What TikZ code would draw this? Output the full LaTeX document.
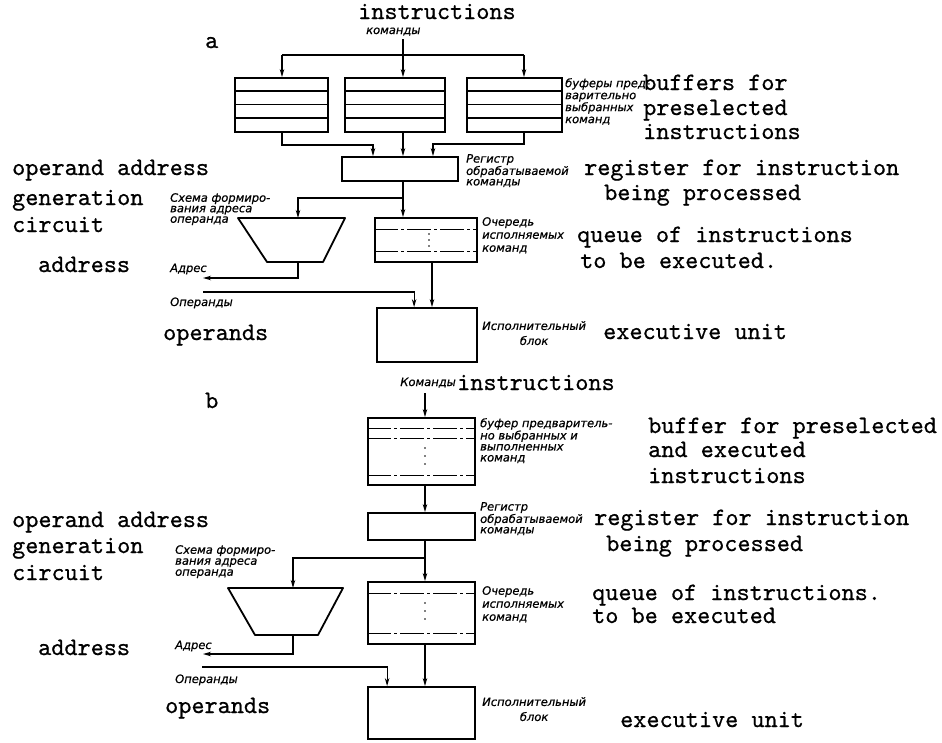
\documentclass[tikz,border=0pt]{standalone}
\usepackage{fontspec}
\newfontfamily\rufont{DejaVu Sans}[FakeBold=0.6]
\newfontfamily\enfont{lmmono10-regular}[Extension=.otf, FakeBold=0.7]
\usetikzlibrary{arrows.meta,calc}
\begin{document}
\begin{tikzpicture}[x=1pt,y=-1pt,
  box/.style={draw, line width=1.8pt, inner sep=0pt},
  conn/.style={line width=1.2pt},
  arr/.style={conn, -{Stealth[length=8pt,width=4.5pt]}},
  sep/.style={line width=1.1pt},
  dsep/.style={line width=0.9pt, dash pattern=on 24pt off 3pt on 3pt off 3pt},
  gen/.style={draw, line width=1.8pt, line join=round},
  en/.style={font=\enfont\fontsize{25}{27}\selectfont, anchor=base west, inner sep=0pt},
  ru/.style={font=\rufont\itshape\fontsize{11.5}{#1}\selectfont, align=left,
    anchor=north west, inner sep=0pt},
  ru/.default=11.5,
  ruline/.style={font=\rufont\itshape\fontsize{11.5}{11.5}\selectfont, anchor=base west, inner sep=0pt},
  dot/.style={fill=black},
]
\useasboundingbox (0,0) rectangle (942,742);

% ================= variant a =================
\node[en] (la) at (205,48) {a};
\node[en] (inTextA) at (358,19) {instructions};
\node[ruline] (inRuA) at (366,34) {команды};

% prefetch buffers
\node[box, minimum width=93, minimum height=54] (bufL) at (281.5,105) {};
\node[box, minimum width=100, minimum height=54] (bufM) at (395,105) {};
\node[box, minimum width=95, minimum height=54] (bufR) at (514.5,105) {};
\foreach \b in {bufL,bufM,bufR}{
  \foreach \yy in {91,104.5,118}{
    \draw[sep] (\b.west |- 0,\yy) -- (\b.east |- 0,\yy);
  }
}

% instruction register
\node[box, minimum width=116, minimum height=24] (regA) at (400,169) {};
% queue of instructions
\node[box, minimum width=102, minimum height=44] (qA) at (426,240) {};
\draw[dsep] (qA.west |- 0,229) -- (qA.east |- 0,229);
\draw[dsep] (qA.west |- 0,251) -- (qA.east |- 0,251);
\foreach \yy in {234,240,246}{ \fill[dot] (429,\yy) circle (0.9); }
% executive unit
\node[box, minimum width=100, minimum height=54] (exA) at (427,335) {};
% operand address generation circuit
\draw[gen] (238,218) -- (345,218) -- (323,262) -- (267,262) -- cycle;
\coordinate (genAin) at (298,218);
\coordinate (genAout) at (298,262);

% connectors a
\coordinate (inA) at (403,39);
\coordinate (cL) at (282,55);
\coordinate (cR) at (524,55);
\draw[arr] (inA) -- (inA |- bufM.north);
\draw[conn] (cL) -- (cR);
\draw[arr] (cL) -- (cL |- bufL.north);
\draw[arr] (cR) -- (cR |- bufR.north);
\coordinate (jL) at (373,145);
\coordinate (jR) at (433,144);
\draw[arr] (cL |- bufL.south) |- (jL) -- (jL |- regA.north);
\draw[arr] (inA |- bufM.south) -- (inA |- regA.north);
\draw[arr] (cR |- bufR.south) |- (jR) -- (jR |- regA.north);
\draw[arr] (inA |- regA.south) -- (inA |- qA.north);
\coordinate (brA) at (403,198);
\draw[arr] (brA) -| (genAin);
\coordinate (adrA) at (203,278);
\draw[arr] (genAout) |- (adrA);
\coordinate (opA) at (203,292);
\draw[arr] (opA) -| ($(exA.north west)+(38,0)$);
\coordinate (cQA) at (432,300);
\draw[arr] (cQA |- qA.south) -- (cQA |- exA.north);

% labels a
\node[ru=12] (lbBufA) at (565,78) {буферы пред-\\варительно\\выбранных\\команд};
\node[ru=10.5] (lbRegA) at (466,154) {Регистр\\обрабатываемой\\команды};
\node[ru=10.5] (lbGenA) at (170,193) {Схема формиро-\\вания адреса\\операнда};
\node[ru=13] (lbQA) at (482,217) {Очередь\\исполняемых\\команд};
\node[ru=15, align=center] (lbExA) at (482,321) {Исполнительный\\блок};
\node[ruline] (lbAdrA) at (170,272) {Адрес};
\node[ruline] (lbOpA) at (170,306) {Операнды};

\node[en] (eBuf1A) at (643,90) {buffers for};
\node[en] (eBuf2A) at (643,115) {preselected};
\node[en] (eBuf3A) at (643,139) {instructions};
\node[en] (eGen1A) at (12,175) {operand address};
\node[en] (eGen2A) at (12,205) {generation};
\node[en] (eGen3A) at (12,232) {circuit};
\node[en] (eReg1A) at (584,175) {register for instruction};
\node[en] (eReg2A) at (604,200) {being processed};
\node[en] (eQ1A) at (577,242) {queue of instructions};
\node[en] (eQ2A) at (580,268) {to be executed.};
\node[en] (eAdrA) at (38,272) {address};
\node[en] (eOpA) at (163,340) {operands};
\node[en] (eExA) at (603,339) {executive unit};

% ================= variant b =================
\node[en] (lb) at (205,408) {b};
\node[en] (inTextB) at (457,390) {instructions};
\node[ruline, anchor=base east] (inRuB) at (456,386) {Команды};

\node[box, minimum width=107, minimum height=67] (bufB) at (421.5,451.5) {};
\draw[dsep] (bufB.west |- 0,428) -- (bufB.east |- 0,428);
\draw[dsep] (bufB.west |- 0,438) -- (bufB.east |- 0,438);
\draw[dsep] (bufB.west |- 0,475) -- (bufB.east |- 0,475);
\foreach \yy in {448,456,464}{ \fill[dot] (425,\yy) circle (0.9); }

\node[box, minimum width=107, minimum height=27] (regB) at (421.5,526.5) {};
\node[box, minimum width=107, minimum height=62] (qB) at (421.5,613) {};
\draw[dsep] (qB.west |- 0,593) -- (qB.east |- 0,593);
\draw[dsep] (qB.west |- 0,633) -- (qB.east |- 0,633);
\foreach \yy in {603,611,619}{ \fill[dot] (425,\yy) circle (0.9); }
\node[box, minimum width=107, minimum height=52] (exB) at (421.5,713) {};
\draw[gen] (228,588) -- (343,588) -- (318,635) -- (255,635) -- cycle;
\coordinate (genBin) at (293,588);
\coordinate (genBout) at (293,635);

% connectors b
\coordinate (inB) at (425,393);
\draw[arr] (inB) -- (inB |- bufB.north);
\draw[arr] (inB |- bufB.south) -- (inB |- regB.north);
\draw[arr] (inB |- regB.south) -- (inB |- qB.north);
\coordinate (brB) at (425,558);
\draw[arr] (brB) -| (genBin);
\coordinate (adrB) at (203,654);
\draw[arr] (genBout) |- (adrB);
\coordinate (opB) at (202,667);
\draw[arr] (opB) -| ($(exB.north west)+(20,0)$);
\draw[arr] (inB |- qB.south) -- (inB |- exB.north);

% labels b
\node[ru=11] (lbBufB) at (480,418) {буфер предваритель-\\но выбранных и\\выполненных\\команд};
\node[ru=10.5] (lbRegB) at (480,502) {Регистр\\обрабатываемой\\команды};
\node[ru=11] (lbGenB) at (175,545) {Схема формиро-\\вания адреса\\операнда};
\node[ru=13] (lbQB) at (482,586) {Очередь\\исполняемых\\команд};
\node[ru=15, align=center] (lbExB) at (482,697) {Исполнительный\\блок};
\node[ruline] (lbAdrB) at (175,649) {Адрес};
\node[ruline] (lbOpB) at (175,683) {Операнды};

\node[en] (eBuf1B) at (648,433) {buffer for preselected};
\node[en] (eBuf2B) at (648,457) {and executed};
\node[en] (eBuf3B) at (648,483) {instructions};
\node[en] (eGen1B) at (12,527) {operand address};
\node[en] (eGen2B) at (12,553) {generation};
\node[en] (eGen3B) at (12,580) {circuit};
\node[en] (eReg1B) at (594,525) {register for instruction};
\node[en] (eReg2B) at (606,551) {being processed};
\node[en] (eQ1B) at (592,600) {queue of instructions.};
\node[en] (eQ2B) at (592,623) {to be executed};
\node[en] (eAdrB) at (38,655) {address};
\node[en] (eOpB) at (165,713) {operands};
\node[en] (eExB) at (620,727) {executive unit};
\end{tikzpicture}
\end{document}
